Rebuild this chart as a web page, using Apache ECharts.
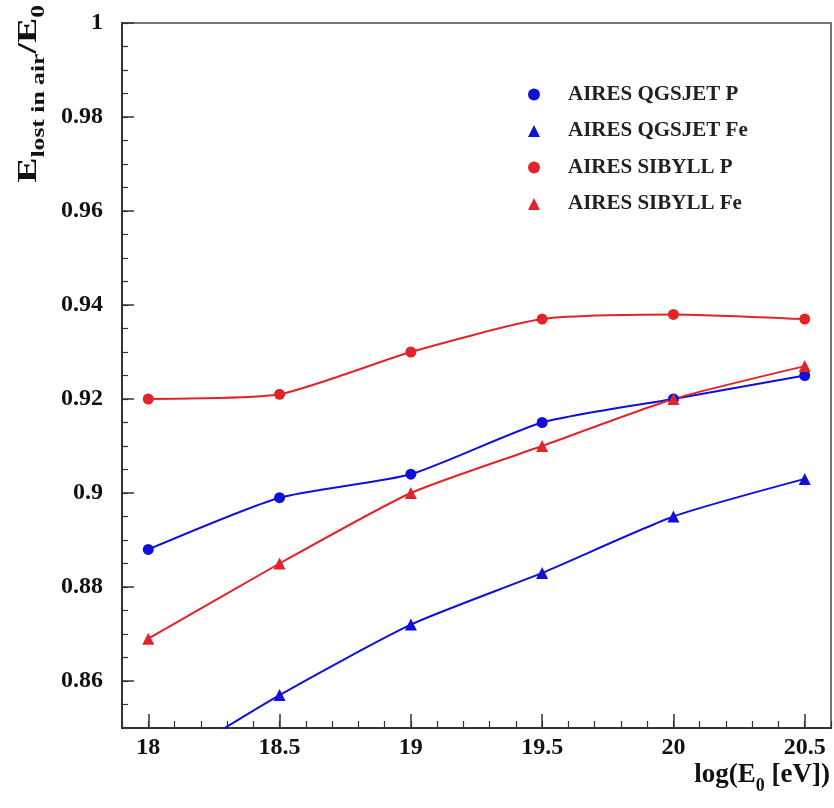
<!DOCTYPE html>
<html>
<head>
<meta charset="utf-8">
<script src="https://cdn.jsdelivr.net/npm/echarts@6/dist/echarts.min.js"></script>
<style>
html,body{margin:0;padding:0;background:#fff;}
#chart{width:834px;height:808px;}
</style>
</head>
<body>
<div id="chart"></div>
<script>
// ---- data ----
const energies = [18, 18.5, 19, 19.5, 20, 20.5];
const qgsjetP  = [0.888, 0.899, 0.904, 0.915, 0.920, 0.925];
const qgsjetFe = [0.840, 0.857, 0.872, 0.883, 0.895, 0.903];
const sibyllP  = [0.920, 0.921, 0.930, 0.937, 0.938, 0.937];
const sibyllFe = [0.869, 0.885, 0.900, 0.910, 0.920, 0.927];
const seriesNames = ['AIRES QGSJET P', 'AIRES QGSJET Fe', 'AIRES SIBYLL P', 'AIRES SIBYLL Fe'];
const xTickValues = [18, 18.5, 19, 19.5, 20, 20.5];
const yTickValues = [0.86, 0.88, 0.9, 0.92, 0.94, 0.96, 0.98, 1];

const BLUE = '#1010d8';
const RED = '#e3232a';
const FONT = '"Liberation Serif", "DejaVu Serif", serif';

function pairs(xs, ys) { return xs.map((x, i) => [x, ys[i]]); }

const chart = echarts.init(document.getElementById('chart'));
const axisLineStyle = { color: '#333', width: 2 };
const labelStyle = { fontFamily: FONT, fontWeight: 'bold', fontSize: 24, color: '#111' };

function mk(name, data, color, symbol) {
  return {
    name: name, type: 'line', data: data, xAxisIndex: 0, yAxisIndex: 0,
    symbol: symbol, symbolSize: symbol === 'circle' ? 11 : 12,
    smooth: 0.2, clip: true,
    lineStyle: { color: color, width: 2 },
    itemStyle: { color: color },
    emphasis: { disabled: true }
  };
}

chart.setOption({
  animation: false,
  backgroundColor: '#fff',
  grid: { left: 122, right: 3, top: 23, bottom: 80, show: true, borderColor: '#777', borderWidth: 2, backgroundColor: 'transparent' },
  legend: {
    orient: 'vertical', left: 523, top: 79, itemGap: 15.5,
    itemWidth: 12, itemHeight: 12,
    data: [
      { name: seriesNames[0], icon: 'circle' },
      { name: seriesNames[1], icon: 'triangle' },
      { name: seriesNames[2], icon: 'circle' },
      { name: seriesNames[3], icon: 'triangle' }
    ],
    textStyle: { fontFamily: FONT, fontWeight: 'bold', fontSize: 21, color: '#222', padding: [0, 0, 0, 23] }
  },
  xAxis: [
    {
      type: 'value', min: 17.9, max: 20.6, position: 'bottom',
      axisLine: { show: true, lineStyle: axisLineStyle },
      axisTick: { show: true, inside: true, length: 14, customValues: xTickValues, lineStyle: { color: '#333', width: 1.5 } },
      axisLabel: { customValues: xTickValues, margin: 8, ...labelStyle, formatter: v => String(v) },
      splitLine: { show: false }
    },
    {
      type: 'value', min: 17.9, max: 20.6, interval: 0.1, position: 'bottom', offset: 0,
      axisLine: { show: false },
      axisTick: { show: true, inside: true, length: 7, lineStyle: { color: '#333', width: 1.2 } },
      axisLabel: { show: false },
      splitLine: { show: false }
    }
  ],
  yAxis: [
    {
      type: 'value', min: 0.85, max: 1.0, position: 'left',
      axisLine: { show: true, lineStyle: axisLineStyle },
      axisTick: { show: true, inside: true, length: 12, customValues: yTickValues, lineStyle: { color: '#333', width: 1.5 } },
      axisLabel: { customValues: yTickValues, margin: 19, ...labelStyle, formatter: v => String(+v.toFixed(2)) },
      splitLine: { show: false }
    },
    {
      type: 'value', min: 0.85, max: 1.0, interval: 0.005, position: 'left', offset: 0,
      axisLine: { show: false },
      axisTick: { show: true, inside: true, length: 6, lineStyle: { color: '#333', width: 1.2 } },
      axisLabel: { show: false },
      splitLine: { show: false }
    }
  ],
  graphic: [
    {
      type: 'text', left: 15, top: 5, rotation: Math.PI / 2, scaleX: 1.35,
      style: {
        text: '{b|E}{s|lost in air}{b|/E}{s|0}',
        fill: '#111',
        rich: {
          b: { fontFamily: FONT, fontWeight: 'bold', fontSize: 28, verticalAlign: 'bottom' },
          s: { fontFamily: FONT, fontWeight: 'bold', fontSize: 19, verticalAlign: 'bottom', padding: [0, 0, -6, 0] }
        }
      }
    },
    {
      type: 'text', right: 4, top: 762,
      style: {
        text: '{b|log(E}{s|0}{b| [eV])}',
        fill: '#111',
        rich: {
          b: { fontFamily: FONT, fontWeight: 'bold', fontSize: 27, verticalAlign: 'bottom' },
          s: { fontFamily: FONT, fontWeight: 'bold', fontSize: 18, verticalAlign: 'bottom', padding: [0, 0, -6, 0] }
        }
      }
    }
  ],
  series: [
    mk(seriesNames[0], pairs(energies, qgsjetP), BLUE, 'circle'),
    mk(seriesNames[1], pairs(energies, qgsjetFe), BLUE, 'triangle'),
    mk(seriesNames[2], pairs(energies, sibyllP), RED, 'circle'),
    mk(seriesNames[3], pairs(energies, sibyllFe), RED, 'triangle')
  ]
});
</script>
</body>
</html>
